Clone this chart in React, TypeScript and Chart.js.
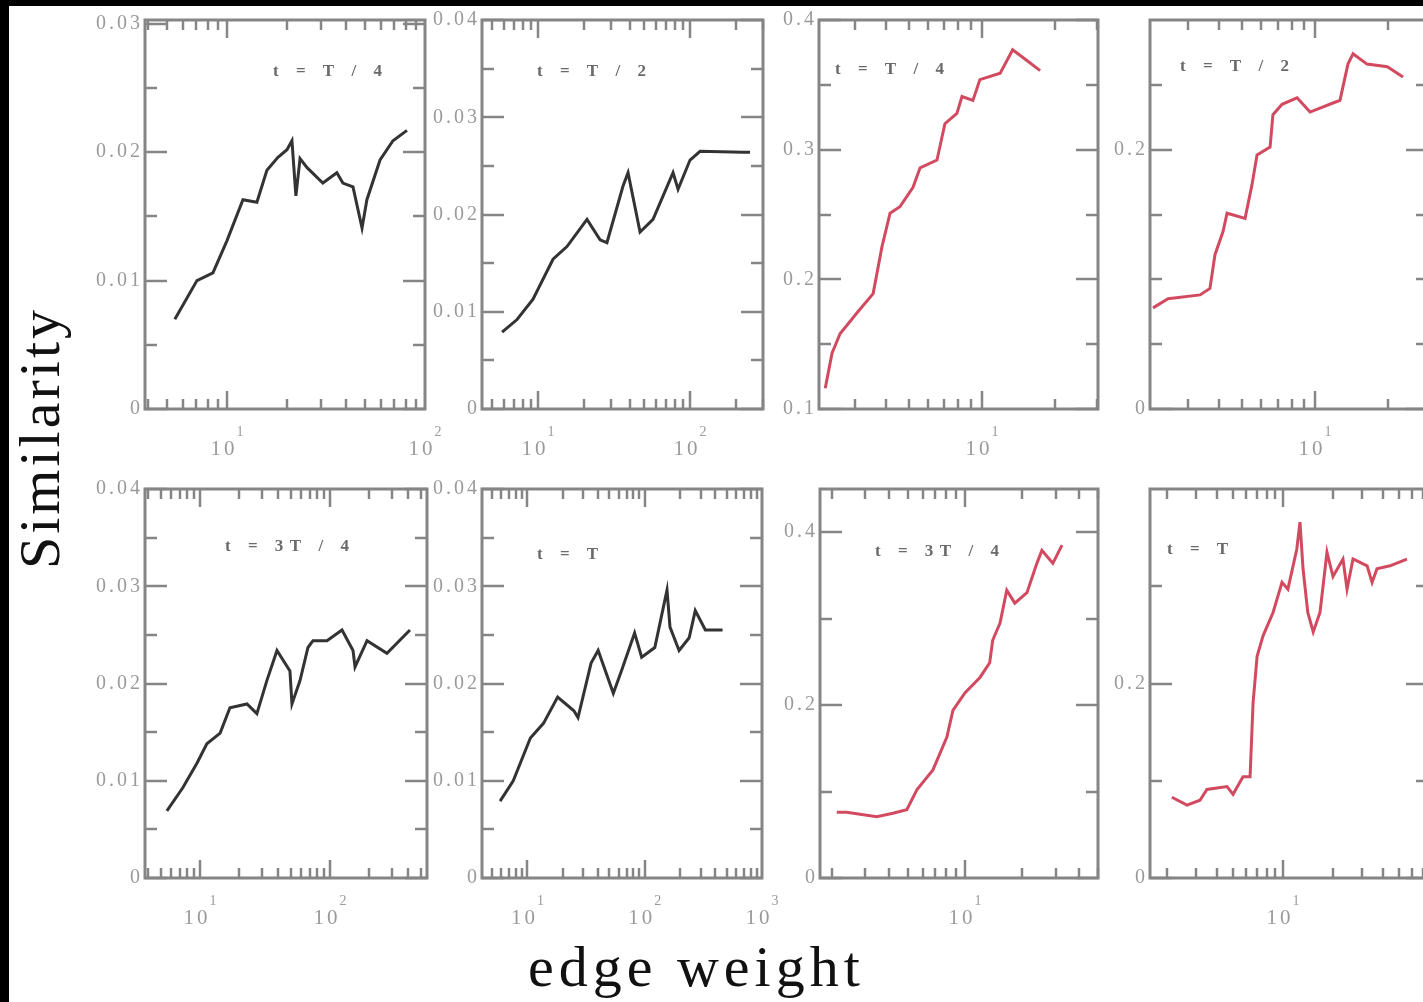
import React, { useEffect, useRef } from "react";
import { Chart, registerables } from "chart.js";

Chart.register(...registerables);

// ---------------- data (edge weight -> similarity) ----------------
const p1X = [5.46, 7.06, 8.5, 10, 12.05, 14.17, 15.92, 18.1, 20.1, 21.3, 22.3, 23.4, 25.4, 30.5, 35.9, 38.5, 43.3, 48.1, 50.9, 59.3, 68.9, 81.1];
const p1Y = [0.007, 0.01, 0.0106, 0.0131, 0.0163, 0.0161, 0.0186, 0.0196, 0.0202, 0.0209, 0.0166, 0.0195, 0.0188, 0.0176, 0.0184, 0.0176, 0.0173, 0.0141, 0.0163, 0.0194, 0.0209, 0.0217];

const p2X = [5.8, 7.28, 9.27, 12.55, 15.5, 21.0, 25.6, 28.4, 36.2, 39.1, 46.9, 57.1, 77.3, 83.4, 100, 116.4, 223, 248];
const p2Y = [0.0079, 0.0092, 0.0113, 0.0154, 0.0167, 0.0195, 0.0174, 0.0171, 0.0229, 0.0243, 0.0182, 0.0195, 0.0243, 0.0226, 0.0256, 0.0265, 0.0264, 0.0264];

const p3X = [2.25, 2.4, 2.59, 3.04, 3.55, 3.86, 4.17, 4.58, 5.19, 5.55, 6.52, 7.03, 7.88, 8.27, 9.18, 9.81, 11.9, 13.4, 15.3, 17.4];
const p3Y = [0.116, 0.143, 0.158, 0.174, 0.189, 0.225, 0.251, 0.256, 0.271, 0.286, 0.292, 0.32, 0.328, 0.341, 0.338, 0.354, 0.359, 0.377, 0.369, 0.361];

const p4X = [2.14, 2.47, 3.35, 3.68, 3.86, 4.17, 4.33, 5.14, 5.49, 5.76, 6.52, 6.7, 7.31, 8.43, 9.54, 11.86, 12.68, 13.68, 14.36, 16.4, 19.9, 23.1];
const p4Y = [0.078, 0.085, 0.088, 0.093, 0.119, 0.137, 0.151, 0.147, 0.173, 0.196, 0.202, 0.227, 0.235, 0.24, 0.229, 0.236, 0.238, 0.266, 0.274, 0.266, 0.264, 0.256];

const p5X = [5.57, 7.4, 9.48, 11.3, 14.3, 17.0, 23.0, 27.4, 32.7, 39.1, 49.2, 51.0, 58.8, 67.7, 74.0, 94.8, 123.7, 150.3, 155.7, 192.7, 274, 412];
const p5Y = [0.0069, 0.0093, 0.0118, 0.0138, 0.0149, 0.0175, 0.0179, 0.0169, 0.0203, 0.0234, 0.0213, 0.0179, 0.0203, 0.0237, 0.0244, 0.0244, 0.0255, 0.0234, 0.0217, 0.0244, 0.0231, 0.0255];

const p6X = [5.85, 7.57, 10.6, 13.7, 18.1, 24.9, 27.0, 34.9, 40.1, 54.0, 63.4, 82.0, 94.2, 121.9, 154.9, 164.3, 196.4, 239.4, 269.8, 329, 461];
const p6Y = [0.0079, 0.01, 0.0144, 0.0159, 0.0186, 0.0172, 0.0165, 0.0221, 0.0234, 0.019, 0.0213, 0.0252, 0.0227, 0.0237, 0.0296, 0.0258, 0.0234, 0.0247, 0.0275, 0.0255, 0.0255];

const p7X = [2.12, 2.39, 3.44, 4.18, 4.95, 5.59, 6.79, 8.04, 8.65, 10, 12.0, 13.5, 14.0, 15.3, 16.6, 18.3, 21.2, 23.9, 25.4, 29.0, 32.4];
const p7Y = [0.076, 0.076, 0.071, 0.075, 0.079, 0.102, 0.125, 0.163, 0.194, 0.214, 0.232, 0.249, 0.275, 0.295, 0.333, 0.318, 0.33, 0.364, 0.379, 0.364, 0.385];

const p8X = [2.14, 2.64, 3.16, 3.48, 4.6, 5.0, 5.74, 6.33, 6.6, 6.98, 7.58, 8.71, 9.86, 10.7, 12.1, 12.65, 13.2, 14.1, 15.2, 16.7, 18.4, 20.0, 22.97, 24.3, 26.4, 32.1, 34.4, 36.8, 44.1, 55.8];
const p8Y = [0.083, 0.075, 0.08, 0.091, 0.094, 0.086, 0.104, 0.104, 0.18, 0.228, 0.249, 0.273, 0.304, 0.297, 0.338, 0.366, 0.318, 0.273, 0.253, 0.273, 0.335, 0.31, 0.328, 0.297, 0.328, 0.321, 0.304, 0.318, 0.321, 0.328];

// panel titles
const titles = ["t = T / 4", "t = T / 2", "t = T / 4", "t = T / 2", "t = 3T / 4", "t = T", "t = 3T / 4", "t = T"];

// axis ranges
const xRanges = [[3.86, 100], [4.28, 302], [2.12, 30.2], [2.08, 29.3], [3.78, 557], [4.1, 1000], [1.73, 50.1], [1.58, 74.7]];
const yRanges = [[0, 0.0303], [0, 0.04], [0.1, 0.4], [0, 0.3], [0, 0.04], [0, 0.04], [0, 0.45], [0, 0.4]];

// tick labels
const yTicksSmall = ["0", "0.01", "0.02", "0.03", "0.04"];
const yTicksP1 = ["0", "0.01", "0.02", "0.03"];
const yTicksP3 = ["0.1", "0.2", "0.3", "0.4"];
const yTicksP4 = ["0", "0.2"];
const yTicksP7 = ["0", "0.2", "0.4"];
const yTicksP8 = ["0", "0.2"];
const yMinorP1 = [0.005, 0.015, 0.025];
const yMinorSmall = [0.005, 0.015, 0.025, 0.035];
const yMinorP3 = [0.15, 0.25, 0.35];
const yMinorP4 = [0.05, 0.1, 0.15, 0.25];
const yMinorP7 = [0.1, 0.3];
const yMinorP8 = [0.1, 0.3];
const xExps = [[1, 2], [1, 2], [1], [1], [1, 2], [1, 2, 3], [1], [1]];

const seriesX = [p1X, p2X, p3X, p4X, p5X, p6X, p7X, p8X];
const seriesY = [p1Y, p2Y, p3Y, p4Y, p5Y, p6Y, p7Y, p8Y];
const yLabelSets = [yTicksP1, yTicksSmall, yTicksP3, yTicksP4, yTicksSmall, yTicksSmall, yTicksP7, yTicksP8];
const yMinorSets = [yMinorP1, yMinorSmall, yMinorP3, yMinorP4, yMinorSmall, yMinorSmall, yMinorP7, yMinorP8];

// ---------------- layout ----------------
const LAYOUT = [
  { left: 145, top: 20, width: 280, height: 389, tx: 128, ty: 52, red: false },
  { left: 482, top: 20, width: 281, height: 389, tx: 55, ty: 52, red: false },
  { left: 819, top: 20, width: 279, height: 389, tx: 16, ty: 50, red: true },
  { left: 1150, top: 20, width: 278, height: 389, tx: 30, ty: 47, red: true },
  { left: 145, top: 489, width: 282, height: 389, tx: 80, ty: 58, red: false },
  { left: 482, top: 489, width: 280, height: 389, tx: 55, ty: 66, red: false },
  { left: 820, top: 489, width: 278, height: 389, tx: 55, ty: 63, red: true },
  { left: 1150, top: 489, width: 278, height: 389, tx: 17, ty: 61, red: true },
];
const PAD = { l: 80, r: 30, t: 15, b: 60 };
const SERIF = '"Liberation Serif", "DejaVu Serif", serif';

function drawSpaced(ctx: CanvasRenderingContext2D, text: string, x: number, y: number, ls: number, align: string) {
  const chars = Array.from(text);
  const widths = chars.map((c) => ctx.measureText(c).width);
  const total = widths.reduce((s, w) => s + w, 0) + ls * (chars.length - 1);
  let cx = align === "right" ? x - total : align === "center" ? x - total / 2 : x;
  ctx.textAlign = "left";
  chars.forEach((c, i) => {
    ctx.fillText(c, cx, y);
    cx += widths[i] + ls;
  });
  return total;
}

function spacedWidth(ctx: CanvasRenderingContext2D, text: string, ls: number) {
  const chars = Array.from(text);
  return chars.reduce((s, c) => s + ctx.measureText(c).width, 0) + ls * (chars.length - 1);
}

const framePlugin = {
  id: "frame",
  afterDatasetsDraw(chart: any, _args: any, opts: any) {
    const { ctx, chartArea: a } = chart;
    const sx = chart.scales.x;
    const sy = chart.scales.y;
    ctx.save();
    ctx.strokeStyle = "#858585";
    ctx.lineWidth = 2.5;
    const seg = (x1: number, y1: number, x2: number, y2: number) => {
      ctx.beginPath();
      ctx.moveTo(x1, y1);
      ctx.lineTo(x2, y2);
      ctx.stroke();
    };
    const lo = Math.floor(Math.log10(sx.min));
    const hi = Math.ceil(Math.log10(sx.max));
    for (let e = lo; e <= hi; e++) {
      for (let k = 1; k < 10; k++) {
        const v = k * Math.pow(10, e);
        if (v <= sx.min * 1.001 || v >= sx.max * 0.999) continue;
        const px = Math.round(sx.getPixelForValue(v));
        const L = k === 1 ? 18 : 10;
        seg(px, a.bottom, px, a.bottom - L);
        seg(px, a.top, px, a.top + L);
      }
    }
    opts.yLabels.forEach((t: string) => {
      const py = Math.round(sy.getPixelForValue(parseFloat(t)));
      seg(a.left, py, a.left + 22, py);
      seg(a.right, py, a.right - 22, py);
    });
    opts.yMinor.forEach((v: number) => {
      const py = Math.round(sy.getPixelForValue(v));
      seg(a.left, py, a.left + 12, py);
      seg(a.right, py, a.right - 12, py);
    });
    ctx.lineWidth = 3;
    ctx.strokeRect(a.left, a.top, a.right - a.left, a.bottom - a.top);

    // tick labels
    ctx.fillStyle = "#9a9a9a";
    ctx.font = `20px ${SERIF}`;
    ctx.textBaseline = "middle";
    opts.yLabels.forEach((t: string) => {
      drawSpaced(ctx, t, a.left - 5, sy.getPixelForValue(parseFloat(t)), 3, "right");
    });
    ctx.textBaseline = "alphabetic";
    opts.xExps.forEach((e: number) => {
      const px = sx.getPixelForValue(Math.pow(10, e));
      ctx.font = `21px ${SERIF}`;
      const w10 = spacedWidth(ctx, "10", 3);
      ctx.font = `14px ${SERIF}`;
      const ws = ctx.measureText(String(e)).width;
      const x0 = px - (w10 + 2 + ws) / 2;
      ctx.font = `21px ${SERIF}`;
      drawSpaced(ctx, "10", x0, a.bottom + 46, 3, "left");
      ctx.font = `14px ${SERIF}`;
      ctx.fillText(String(e), x0 + w10 + 2, a.bottom + 27);
    });

    // panel title
    ctx.fillStyle = "#6a6a6a";
    ctx.font = `bold 17px ${SERIF}`;
    ctx.textBaseline = "middle";
    drawSpaced(ctx, opts.title, a.left + opts.tx, a.top + opts.ty, 6.5, "left");
    ctx.restore();
  },
};

function Panel({ idx }: { idx: number }) {
  const ref = useRef<HTMLCanvasElement>(null);
  const L = LAYOUT[idx];
  const cw = L.width + PAD.l + PAD.r;
  const ch = L.height + PAD.t + PAD.b;
  useEffect(() => {
    const xs = seriesX[idx];
    const ys = seriesY[idx];
    const chart = new Chart(ref.current as HTMLCanvasElement, {
      type: "line",
      data: {
        datasets: [
          {
            data: xs.map((x, i) => ({ x, y: ys[i] })),
            borderColor: L.red ? "#d24a60" : "#333333",
            borderWidth: 3,
            pointRadius: 0,
            tension: 0,
            fill: false,
          },
        ],
      },
      options: {
        animation: false,
        responsive: false,
        devicePixelRatio: 1,
        events: [],
        layout: { padding: { left: PAD.l, right: PAD.r, top: PAD.t, bottom: PAD.b } },
        plugins: {
          legend: { display: false },
          tooltip: { enabled: false },
          title: { display: false },
          frame: {
            yLabels: yLabelSets[idx],
            yMinor: yMinorSets[idx],
            xExps: xExps[idx],
            title: titles[idx],
            tx: L.tx,
            ty: L.ty,
          },
        } as any,
        scales: {
          x: { type: "logarithmic", min: xRanges[idx][0], max: xRanges[idx][1], display: false },
          y: { type: "linear", min: yRanges[idx][0], max: yRanges[idx][1], display: false },
        },
      },
      plugins: [framePlugin as any],
    });
    return () => chart.destroy();
  }, []);
  return (
    <canvas
      ref={ref}
      width={cw}
      height={ch}
      style={{ position: "absolute", left: L.left - PAD.l, top: L.top - PAD.t, width: cw, height: ch }}
    />
  );
}

export default function App() {
  return (
    <div
      style={{
        position: "fixed",
        left: 0,
        top: 0,
        width: 1423,
        height: 1002,
        background: "#000",
        overflow: "hidden",
      }}
    >
      <div style={{ position: "absolute", left: 9, top: 6, right: 0, bottom: 0, background: "#fff" }} />
      {LAYOUT.map((_, i) => (
        <Panel key={i} idx={i} />
      ))}
      <div
        style={{
          position: "absolute",
          left: 40,
          top: 438,
          transform: "translate(-50%, -50%) rotate(-90deg)",
          fontFamily: SERIF,
          fontSize: 58,
          lineHeight: 1,
          letterSpacing: 3,
          color: "#111",
          whiteSpace: "nowrap",
        }}
      >
        Similarity
      </div>
      <div
        style={{
          position: "absolute",
          left: 528,
          top: 938,
          fontFamily: SERIF,
          fontSize: 58,
          lineHeight: 1,
          letterSpacing: 5,
          color: "#111",
          whiteSpace: "nowrap",
        }}
      >
        edge weight
      </div>
    </div>
  );
}
